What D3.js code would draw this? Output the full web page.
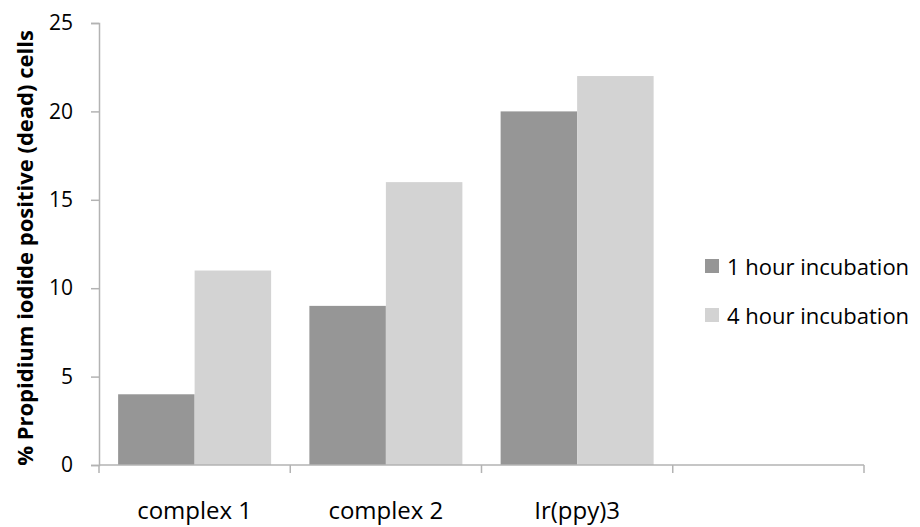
<!DOCTYPE html>
<html>
<head>
<meta charset="utf-8">
<script src="https://cdn.jsdelivr.net/npm/d3@7"></script>
<style>
  html, body { margin: 0; padding: 0; background: #fff; }
  svg text { font-family: "Open Sans", "Noto Sans", sans-serif; fill: #000; }
</style>
</head>
<body>
<svg id="chart" width="920" height="527"></svg>
<script>
// Cell death after incubation with each complex
const categories = ["complex 1", "complex 2", "Ir(ppy)3", ""];
const seriesNames = ["1 hour incubation", "4 hour incubation"];
const oneHour = [4, 9, 20, null];
const fourHour = [11, 16, 22, null];
const yTicks = [0, 5, 10, 15, 20, 25];
const colors = ["#969696", "#d3d3d3"];

const svg = d3.select("#chart");
const plot = { left: 99, right: 864, top: 23, bottom: 465 };

const x0 = d3.scaleBand().domain(categories).range([plot.left, plot.right])
  .paddingInner(0.2).paddingOuter(0.1);
const x1 = d3.scaleBand().domain(seriesNames).range([0, x0.bandwidth()]);
const y = d3.scaleLinear().domain([0, 25]).range([plot.bottom, plot.top]);

const axisColor = "#b3b3b3";

// y axis
const yAxis = svg.append("g").attr("transform", `translate(${plot.left},0)`)
  .call(d3.axisLeft(y).tickValues(yTicks).tickSize(8).tickPadding(18));
yAxis.select(".domain").attr("stroke", axisColor).attr("stroke-width", 1.5);
yAxis.selectAll(".tick line").attr("stroke", axisColor).attr("stroke-width", 1.5);
yAxis.selectAll(".tick text").style("font-size", "21px");

// bars
const rows = categories.map((c, i) => ({ cat: c, vals: [oneHour[i], fourHour[i]] }));
const groups = svg.append("g").selectAll("g").data(rows).join("g")
  .attr("transform", d => `translate(${x0(d.cat)},0)`);
groups.selectAll("rect")
  .data(d => d.vals.map((v, j) => ({ name: seriesNames[j], v, j })).filter(e => e.v != null))
  .join("rect")
  .attr("x", d => x1(d.name))
  .attr("width", x1.bandwidth())
  .attr("y", d => y(d.v))
  .attr("height", d => y(0) - y(d.v))
  .attr("fill", d => colors[d.j]);

// x axis with category boundaries
const step = x0.step();
const xa = svg.append("g");
xa.append("line").attr("x1", plot.left).attr("x2", plot.right)
  .attr("y1", plot.bottom).attr("y2", plot.bottom)
  .attr("stroke", axisColor).attr("stroke-width", 1.5);
d3.range(categories.length + 1).forEach(i => {
  const xp = plot.left + i * step;
  xa.append("line").attr("x1", xp).attr("x2", xp)
    .attr("y1", plot.bottom).attr("y2", plot.bottom + 8)
    .attr("stroke", axisColor).attr("stroke-width", 1.5);
});
xa.selectAll("text.cat").data(categories).join("text").attr("class", "cat")
  .attr("x", d => x0(d) + x0.bandwidth() / 2)
  .attr("y", 519)
  .attr("text-anchor", "middle")
  .style("font-size", "24px")
  .text(d => d);

// y axis title
svg.append("text")
  .attr("transform", `translate(33,248) rotate(-90)`)
  .attr("text-anchor", "middle")
  .style("font-size", "22px")
  .style("font-weight", "bold")
  .text("% Propidium iodide positive (dead) cells");

// legend
const legend = svg.append("g").selectAll("g").data(seriesNames).join("g")
  .attr("transform", (d, i) => `translate(705,${259 + i * 49})`);
legend.append("rect").attr("width", 14).attr("height", 14).attr("fill", (d, i) => colors[i]);
legend.append("text").attr("x", 22).attr("y", 16).style("font-size", "22px").text(d => d);
</script>
</body>
</html>
